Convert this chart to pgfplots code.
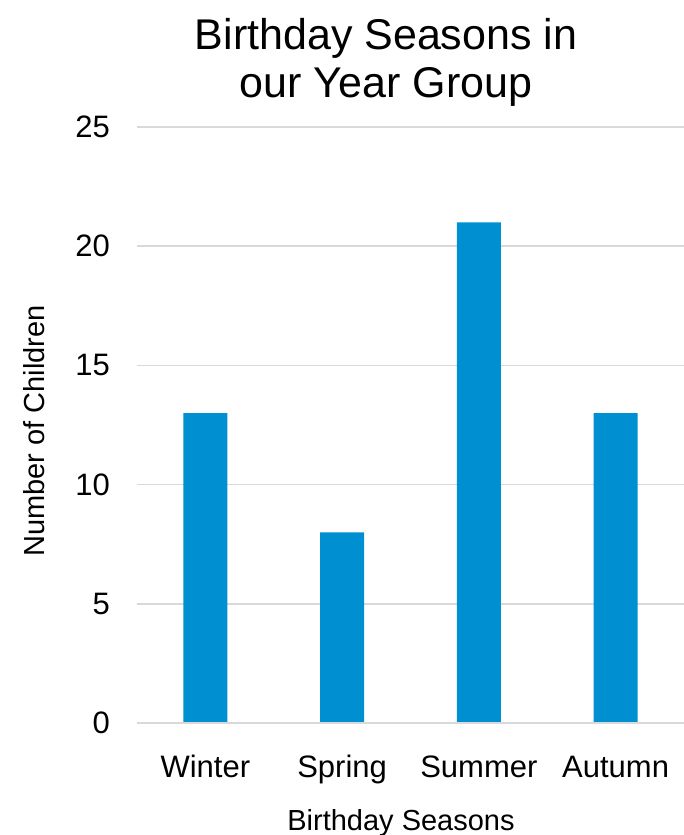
\documentclass[border=0pt]{standalone}
\usepackage{pgfplots}
\pgfplotsset{compat=1.18}
\usepackage{fontspec}
\setmainfont{Liberation Sans}
\definecolor{barblue}{RGB}{0,143,208}
\definecolor{gridgray}{RGB}{217,217,217}
\begin{document}
\begin{tikzpicture}
\useasboundingbox (-137bp,-112bp) rectangle (547bp,723bp);
\begin{axis}[
  at={(0,0)}, anchor=south west,
  scale only axis, width=547bp, height=596bp,
  xmin=-0.5, xmax=3.5, ymin=0, ymax=25,
  axis line style={draw=none},
  ytick={0,5,...,25},
  xtick={0,1,2,3},
  xticklabels={Winter,Spring,Summer,Autumn},
  major tick length=0pt,
  ymajorgrids, grid style={gridgray, line width=1.5bp},
  yticklabel style={font=\fontsize{31bp}{36bp}\selectfont, anchor=east, inner sep=0pt, xshift=-27bp},
  xticklabel style={font=\fontsize{31bp}{36bp}\selectfont, anchor=base, inner sep=0pt, yshift=-54bp},
  /pgf/number format/assume math mode=true,
  clip=false,
]
\addplot[ybar, bar width=44bp, fill=barblue, draw=none] coordinates {(0,13) (1,8) (2,21) (3,13)};
\draw[gridgray, line width=1.5bp] (rel axis cs:0,0) -- (rel axis cs:1,0);
\node[anchor=base, font=\fontsize{43bp}{50bp}\selectfont, inner sep=0pt] at ([yshift=673bp, xshift=249bp]rel axis cs:0,0) {Birthday Seasons in};
\node[anchor=base, font=\fontsize{43bp}{50bp}\selectfont, inner sep=0pt] at ([yshift=625bp, xshift=249bp]rel axis cs:0,0) {our Year Group};
\node[anchor=base, font=\fontsize{29bp}{34bp}\selectfont, inner sep=0pt] at ([yshift=-107bp, xshift=264bp]rel axis cs:0,0) {Birthday Seasons};
\node[anchor=base, rotate=90, font=\fontsize{29bp}{34bp}\selectfont, inner sep=0pt] at ([yshift=292bp, xshift=-92bp]rel axis cs:0,0) {Number of Children};
\end{axis}
\end{tikzpicture}
\end{document}
